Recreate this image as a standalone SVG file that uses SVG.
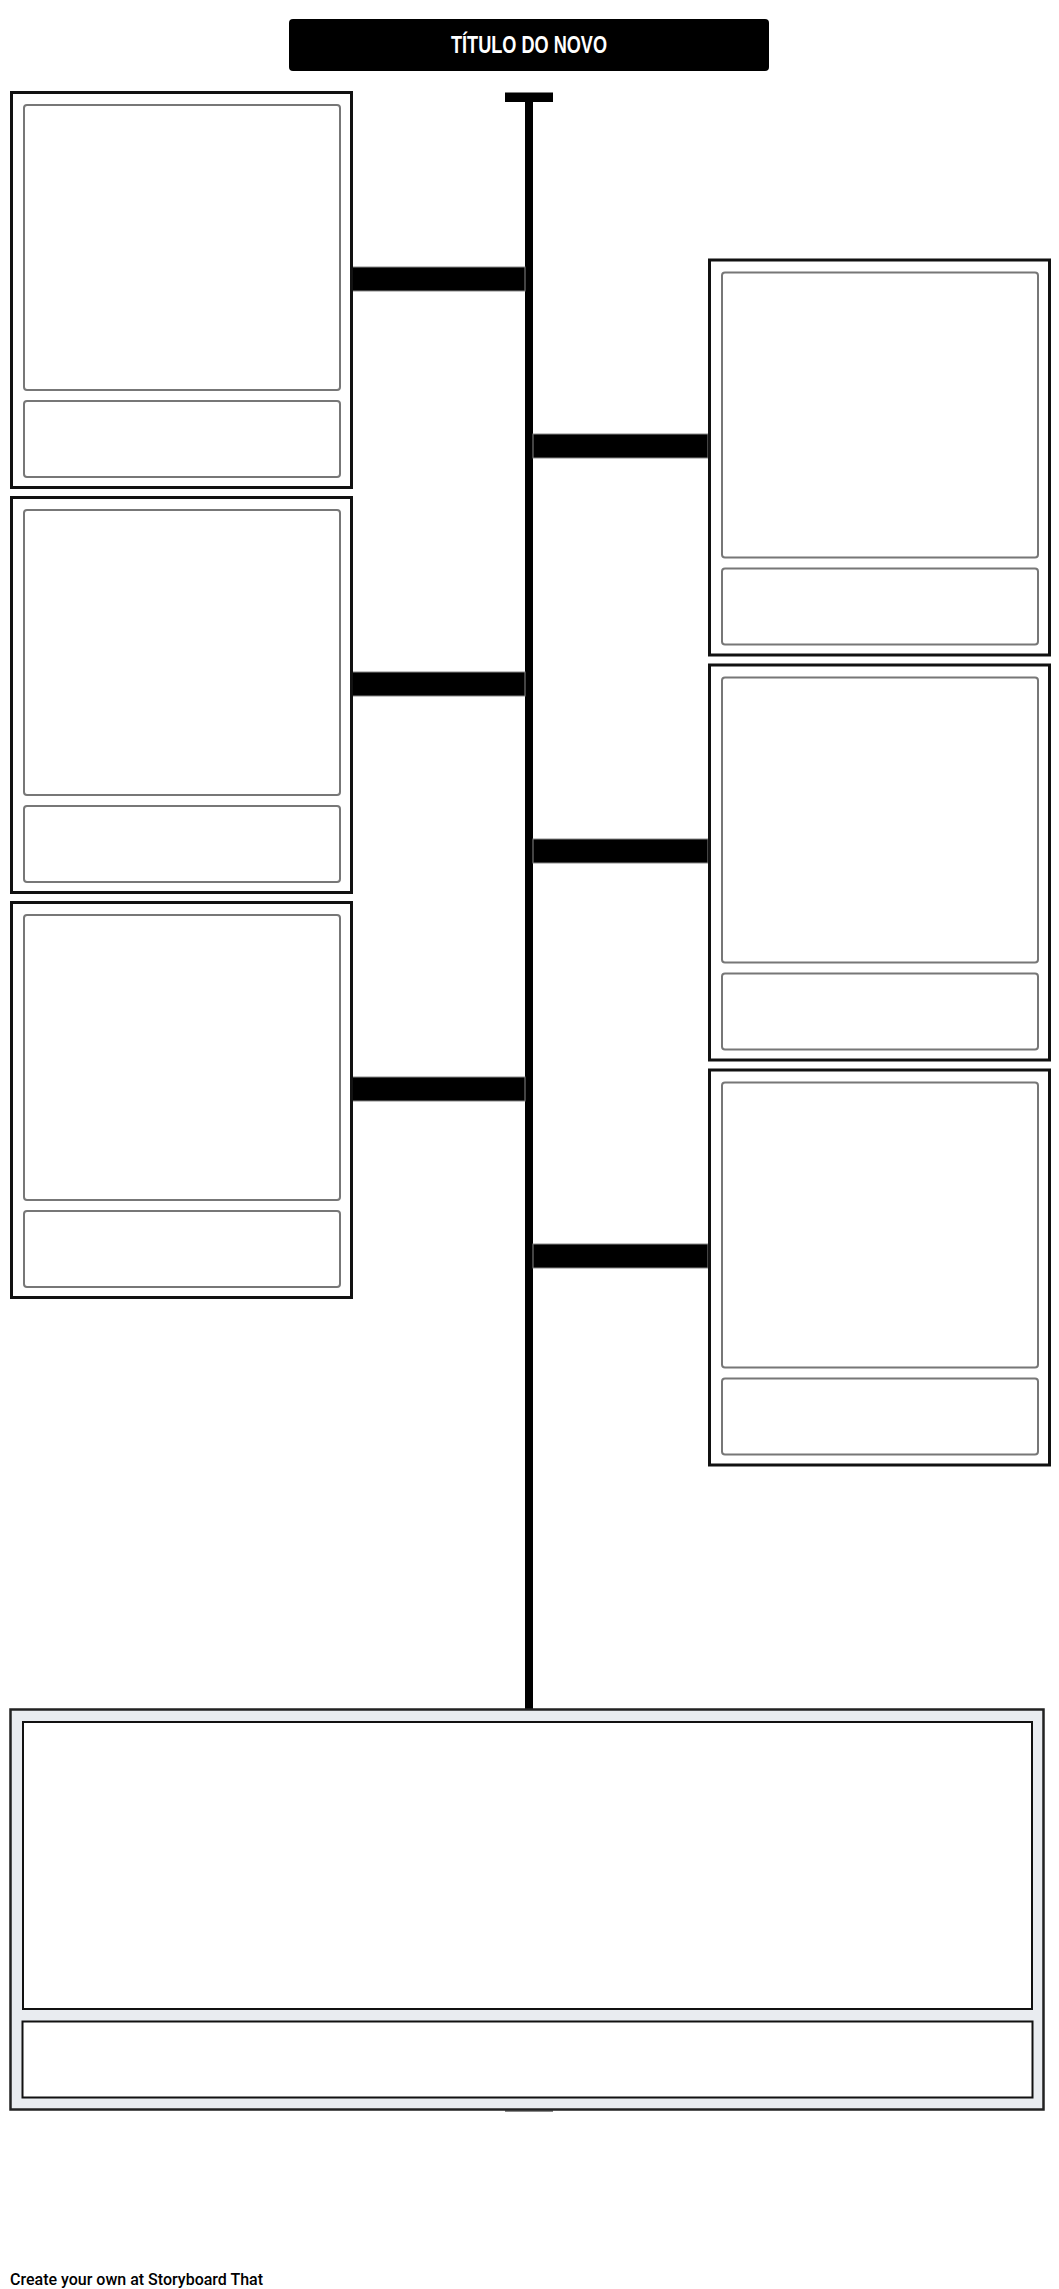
<svg xmlns="http://www.w3.org/2000/svg" width="1059" height="2289" viewBox="0 0 1059 2289">
<style>
.outer{fill:#fff;stroke:#111;stroke-width:3}
.inner{fill:#fff;stroke:#777;stroke-width:2}
.conn{fill:#000;stroke:#888;stroke-width:1}
.bar{fill:#000}
.title{font-family:"Liberation Sans",Arial,sans-serif;font-weight:bold;font-size:23px;fill:#fff}
.foot{font-family:Roboto,"Liberation Sans",Arial,sans-serif;font-weight:500;font-size:16px;fill:#000}
</style>
<rect width="1059" height="2289" fill="#fff"/>
<g id="title">
<rect x="289" y="19" width="480" height="52" rx="4" fill="#000"/>
<text class="title" x="451" y="53" textLength="156" lengthAdjust="spacingAndGlyphs">TÍTULO DO NOVO</text>
</g>
<g id="connectors">
<rect x="505" y="2110" width="48" height="2" fill="#888"/>
<rect class="bar" x="525" y="93" width="8" height="1616"/>
<rect class="bar" x="505" y="92.5" width="48" height="9.5"/>
<rect class="conn" x="352" y="267" width="173" height="24"/>
<rect class="conn" x="352" y="672" width="173" height="24"/>
<rect class="conn" x="352" y="1077" width="173" height="24"/>
<rect class="conn" x="533" y="434" width="175" height="24"/>
<rect class="conn" x="533" y="839" width="175" height="24"/>
<rect class="conn" x="533" y="1244" width="175" height="24"/>
</g>
<g id="left1">
<rect class="outer" x="11.5" y="92.5" width="340" height="395"/>
<rect class="inner" x="24" y="105" width="316" height="285" rx="3"/>
<rect class="inner" x="24" y="401" width="316" height="76" rx="3"/>
</g>
<g id="left2">
<rect class="outer" x="11.5" y="497.5" width="340" height="395"/>
<rect class="inner" x="24" y="510" width="316" height="285" rx="3"/>
<rect class="inner" x="24" y="806" width="316" height="76" rx="3"/>
</g>
<g id="left3">
<rect class="outer" x="11.5" y="902.5" width="340" height="395"/>
<rect class="inner" x="24" y="915" width="316" height="285" rx="3"/>
<rect class="inner" x="24" y="1211" width="316" height="76" rx="3"/>
</g>
<g id="right1">
<rect class="outer" x="709.5" y="260" width="340" height="395"/>
<rect class="inner" x="722" y="272.5" width="316" height="285" rx="3"/>
<rect class="inner" x="722" y="568.5" width="316" height="76" rx="3"/>
</g>
<g id="right2">
<rect class="outer" x="709.5" y="665" width="340" height="395"/>
<rect class="inner" x="722" y="677.5" width="316" height="285" rx="3"/>
<rect class="inner" x="722" y="973.5" width="316" height="76" rx="3"/>
</g>
<g id="right3">
<rect class="outer" x="709.5" y="1070" width="340" height="395"/>
<rect class="inner" x="722" y="1082.5" width="316" height="285" rx="3"/>
<rect class="inner" x="722" y="1378.5" width="316" height="76" rx="3"/>
</g>
<g id="summary">
<rect x="10.5" y="1709.5" width="1033" height="400" fill="#e9ecf0" stroke="#222" stroke-width="2.5"/>
<rect x="23" y="1722" width="1009" height="287" fill="#fff" stroke="#111" stroke-width="2"/>
<rect x="22.5" y="2021.5" width="1010" height="76" fill="#fff" stroke="#111" stroke-width="2"/>
</g>
<text class="foot" x="10" y="2285">Create your own at Storyboard That</text>
</svg>
